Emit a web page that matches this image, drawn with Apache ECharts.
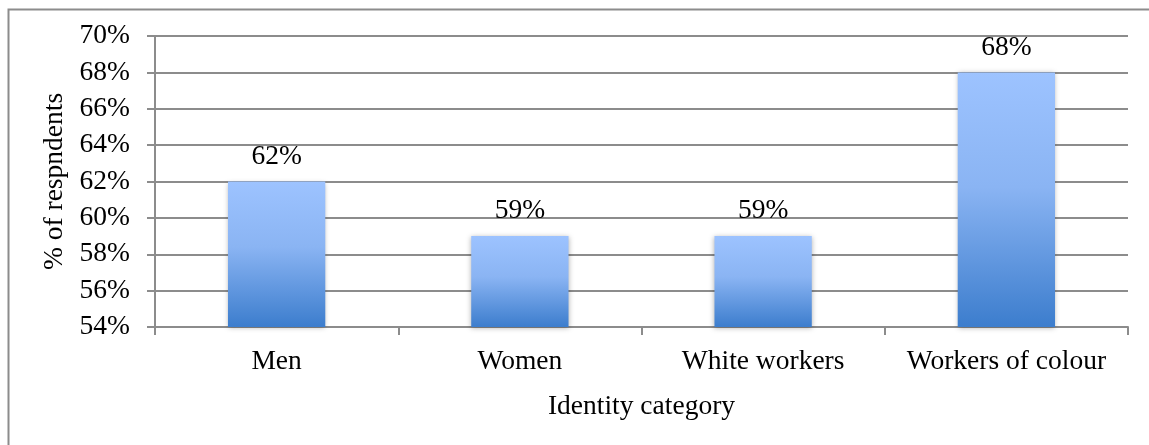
<!DOCTYPE html>
<html>
<head>
<meta charset="utf-8">
<script src="https://cdn.jsdelivr.net/npm/echarts@6/dist/echarts.min.js"></script>
<style>
  html, body { margin: 0; padding: 0; background: #fff; }
  #chart { width: 1149px; height: 445px; }
</style>
</head>
<body>
<div id="chart"></div>
<script>
// Share of respondents by identity category
const categories = ['Men', 'Women', 'White workers', 'Workers of colour'];
const shares = [62, 59, 59, 68];
const yMin = 54, yMax = 70, yStep = 2;

const FONT = '"Liberation Serif", "DejaVu Serif", serif';
const chart = echarts.init(document.getElementById('chart'), null, { renderer: 'canvas' });

chart.setOption({
  backgroundColor: '#ffffff',
  animation: false,
  graphic: [{
    type: 'rect',
    left: 6, top: 7,
    shape: { width: 1200, height: 500 },
    style: { fill: 'none', stroke: '#8c8c8c', lineWidth: 2 },
    silent: true
  }],
  grid: { left: 155, right: 21, top: 36, bottom: 118, containLabel: false },
  xAxis: {
    type: 'category',
    data: categories,
    name: 'Identity category',
    nameLocation: 'middle',
    nameGap: 66,
    nameTextStyle: { fontFamily: FONT, fontSize: 27.5, color: '#000' },
    axisLine: { show: true, lineStyle: { color: '#8c8c8c', width: 2 } },
    axisTick: { show: true, length: 8, alignWithLabel: false, lineStyle: { color: '#8c8c8c', width: 2 } },
    axisLabel: { fontFamily: FONT, fontSize: 27.5, color: '#000', margin: 21, interval: 0 }
  },
  yAxis: {
    type: 'value',
    min: yMin, max: yMax, interval: yStep,
    name: '% of respndents',
    nameLocation: 'middle',
    nameGap: 86,
    nameRotate: 90,
    nameTextStyle: { fontFamily: FONT, fontSize: 27.5, color: '#000' },
    axisLine: { show: true, lineStyle: { color: '#8c8c8c', width: 2 } },
    axisTick: { show: true, length: 8, lineStyle: { color: '#8c8c8c', width: 2 } },
    axisLabel: { fontFamily: FONT, fontSize: 27.5, color: '#000', margin: 25, formatter: v => v + '%' },
    splitLine: { show: true, lineStyle: { color: '#8c8c8c', width: 2 } }
  },
  series: [{
    type: 'bar',
    data: shares,
    barWidth: '40%',
    itemStyle: {
      color: new echarts.graphic.LinearGradient(0, 0, 0, 1, [
        { offset: 0, color: '#9dc3ff' },
        { offset: 0.45, color: '#8ab4f3' },
        { offset: 1, color: '#3c7dcd' }
      ]),
      shadowColor: 'rgba(0,0,0,0.3)',
      shadowBlur: 5,
      shadowOffsetY: 1
    },
    label: {
      show: true,
      position: 'top',
      distance: 11,
      fontFamily: FONT,
      fontSize: 27.5,
      color: '#000',
      formatter: p => p.value + '%'
    }
  }]
});
</script>
</body>
</html>
